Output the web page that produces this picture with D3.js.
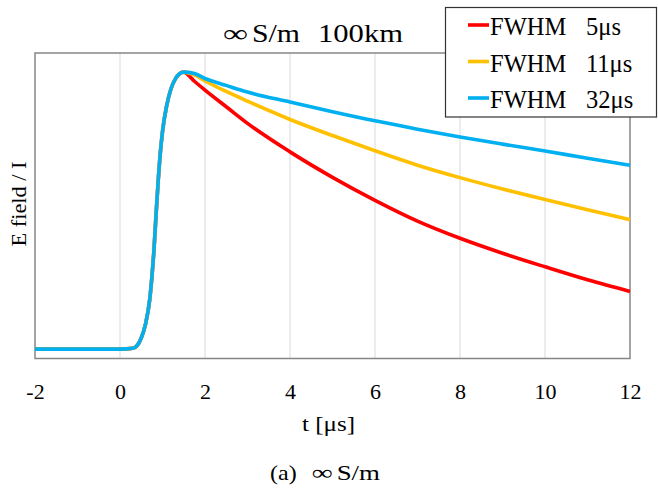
<!DOCTYPE html>
<html><head><meta charset="utf-8">
<script src="https://cdn.jsdelivr.net/npm/d3@7"></script>
<style>body{margin:0;background:#fff}svg{display:block}text{font-family:"Liberation Serif","Times New Roman",serif;fill:#000}</style>
</head><body><svg id="c" width="658" height="489"></svg>
<script>
const xTicks = [-2, 0, 2, 4, 6, 8, 10, 12];
const seriesNames = ["FWHM", "FWHM", "FWHM"];
const seriesLabels = ["5\u03bcs", "11\u03bcs", "32\u03bcs"];
const colors = ["#ff0000", "#ffc000", "#00b0f0"];
// shared rise
const riseT = [-2, 0, 0.3, 0.4, 0.5, 0.6, 0.7, 0.75, 0.8, 0.85, 0.9, 0.95, 1.0, 1.1, 1.2, 1.3, 1.4, 1.5];
const riseV = [0, 0, 0.003, 0.012, 0.04, 0.09, 0.18, 0.26, 0.36, 0.49, 0.61, 0.71, 0.785, 0.88, 0.94, 0.975, 0.994, 1.0];
// decay
const decayT = [1.75, 2, 2.5, 3, 4, 5, 6, 7, 8, 9, 10, 11, 12];
const red5 = [0.967, 0.935, 0.875, 0.815, 0.712, 0.620, 0.537, 0.462, 0.400, 0.346, 0.297, 0.250, 0.208];
const orange11 = [0.99, 0.968, 0.93, 0.895, 0.829, 0.771, 0.716, 0.664, 0.619, 0.578, 0.540, 0.503, 0.467];
const blue32 = [0.995, 0.977, 0.952, 0.928, 0.892, 0.857, 0.824, 0.794, 0.766, 0.740, 0.715, 0.689, 0.664];
const decays = [red5, orange11, blue32];

const svg = d3.select("#c");
const L = 35, R = 630, T = 53, B = 358.5;
const x = d3.scaleLinear().domain([-2, 12]).range([L, R]);
const y = d3.scaleLinear().domain([-0.034, 1.069]).range([B, T]);

// gridlines
svg.append("g").selectAll("line").data(xTicks.slice(1, -1)).join("line")
  .attr("x1", d => x(d)).attr("x2", d => x(d)).attr("y1", T).attr("y2", B)
  .attr("stroke", "#d9d9d9").attr("stroke-width", 1);

// frame
svg.append("rect").attr("x", L).attr("y", T).attr("width", R - L).attr("height", B - T)
  .attr("fill", "none").attr("stroke", "#868686").attr("stroke-width", 1.5);

// x axis labels
const ax = svg.append("g").attr("transform", `translate(0,${B})`)
  .call(d3.axisBottom(x).tickValues(xTicks).tickSize(0).tickPadding(25).tickFormat(d => String(d)));
ax.select(".domain").remove();
ax.selectAll("text").style("font-family", '"Liberation Serif",serif').style("font-size", "22px").attr("fill", "#000");

const line = d3.line().x(d => x(d[0])).y(d => y(d[1])).curve(d3.curveMonotoneX);
decays.forEach((dec, i) => {
  const pts = riseT.map((t, j) => [t, riseV[j]]).concat(decayT.map((t, j) => [t, dec[j]]));
  svg.append("path").datum(pts).attr("d", line).attr("fill", "none")
    .attr("stroke", colors[i]).attr("stroke-width", 3.6).attr("stroke-linejoin", "round");
});

function stretched(g, str, x0, yb, w, fs) {
  return g.append("text").attr("x", x0).attr("y", yb).style("font-size", fs + "px")
    .attr("textLength", w).attr("lengthAdjust", "spacingAndGlyphs").text(str);
}

// title
stretched(svg, "\u221e", 223, 41.7, 25, 25);
stretched(svg, "S/m", 252, 41.7, 48, 25);
stretched(svg, "100km", 318, 41.7, 85, 25);

// y label
svg.append("text").attr("transform", "translate(26,204) rotate(-90)").attr("text-anchor", "middle")
  .style("font-size", "21.5px").attr("textLength", 85).attr("lengthAdjust", "spacingAndGlyphs").text("E field / I");

// x label
stretched(svg, "t [\u03bcs]", 302, 431, 53, 22);

// caption
stretched(svg, "(a)", 270, 480, 26.7, 22);
stretched(svg, "\u221e", 311.7, 480, 21, 22);
stretched(svg, "S/m", 336.7, 480, 43.3, 22);

// legend
const lg = svg.append("g");
lg.append("rect").attr("x", 445.5).attr("y", 7.5).attr("width", 211).attr("height", 109.5)
  .attr("fill", "#fff").attr("stroke", "#333").attr("stroke-width", 1.2);
const ly = [25, 61.5, 98];
seriesLabels.forEach((s, i) => {
  lg.append("line").attr("x1", 468).attr("x2", 489).attr("y1", ly[i]).attr("y2", ly[i])
    .attr("stroke", colors[i]).attr("stroke-width", 3.6);
  lg.append("text").attr("x", 490).attr("y", ly[i] + 10).style("font-size", "24.5px").text(seriesNames[i]);
  lg.append("text").attr("x", 586).attr("y", ly[i] + 10).style("font-size", "24.5px").text(s);
});
</script></body></html>
